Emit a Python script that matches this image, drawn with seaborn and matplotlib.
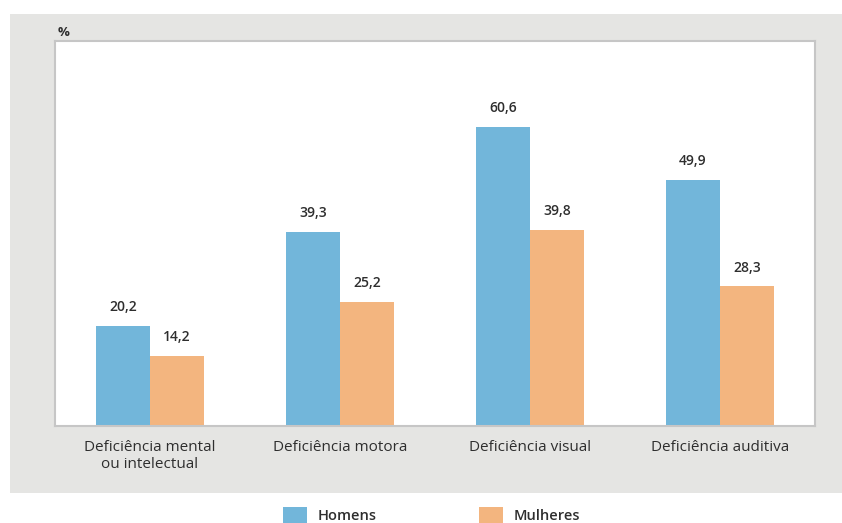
import matplotlib
matplotlib.use('Agg')
import matplotlib.pyplot as plt
import matplotlib.patches as mpatches
import seaborn as sns
import pandas as pd

categorias = ['Deficiência mental\nou intelectual', 'Deficiência motora',
              'Deficiência visual', 'Deficiência auditiva']
homens = [20.2, 39.3, 60.6, 49.9]
mulheres = [14.2, 25.2, 39.8, 28.3]
series = ['Homens', 'Mulheres']
cores = ['#72b6da', '#f3b57f']

df = pd.DataFrame({
    'categoria': categorias * 2,
    'sexo': ['Homens'] * 4 + ['Mulheres'] * 4,
    'valor': homens + mulheres,
})

sns.set_style('white')
plt.rcParams['font.family'] = ['Open Sans', 'DejaVu Sans']
texto = '#2e2e2e'

fig = plt.figure(figsize=(8.42, 5.23), dpi=100)
fig.patch.set_facecolor('white')

# painel cinza atrás do gráfico
painel = mpatches.Rectangle((10 / 842, 1 - 493 / 523), 832 / 842, 479 / 523,
                            transform=fig.transFigure, facecolor='#e5e5e3',
                            edgecolor='none', zorder=-10)
fig.patches.append(painel)

ax = fig.add_axes([55 / 842, 1 - 426 / 523, 760 / 842, 385 / 523])
ax.set_facecolor('white')

sns.barplot(data=df, x='categoria', y='valor', hue='sexo', palette=cores,
            width=0.57, gap=0, saturation=1, linewidth=0, ax=ax, legend=False)

for cont, vals in zip(ax.containers, [homens, mulheres]):
    ax.bar_label(cont, labels=[f'{v:.1f}'.replace('.', ',') for v in vals],
                 padding=8.5, fontsize=10, fontweight='semibold', color=texto)

ax.set_xlim(-0.5, 3.5)
ax.set_ylim(0, 78)
ax.set_yticks([])
ax.set_xlabel('')
ax.set_ylabel('')
ax.tick_params(axis='x', length=0, pad=10, labelsize=11, labelcolor=texto)
for s in ax.spines.values():
    s.set_color('#c6c6c6')
    s.set_linewidth(1.5)

fig.text(58 / 842, 1 - 32 / 523, '%', fontsize=9.5, fontweight='bold',
         color=texto, va='center', ha='left')

handles = [mpatches.Patch(facecolor=c, edgecolor='none', label=l)
           for c, l in zip(cores, series)]
fig.legend(handles=handles, loc='upper left', ncol=2, frameon=False,
           bbox_to_anchor=(283 / 842, 1 - 507 / 523), borderpad=0,
           borderaxespad=0, handlelength=1.65, handleheight=1.4,
           handletextpad=0.75, columnspacing=7.0,
           prop={'size': 10.5, 'weight': 'semibold'}, labelcolor=texto)

fig.savefig('out.png', dpi=100)
